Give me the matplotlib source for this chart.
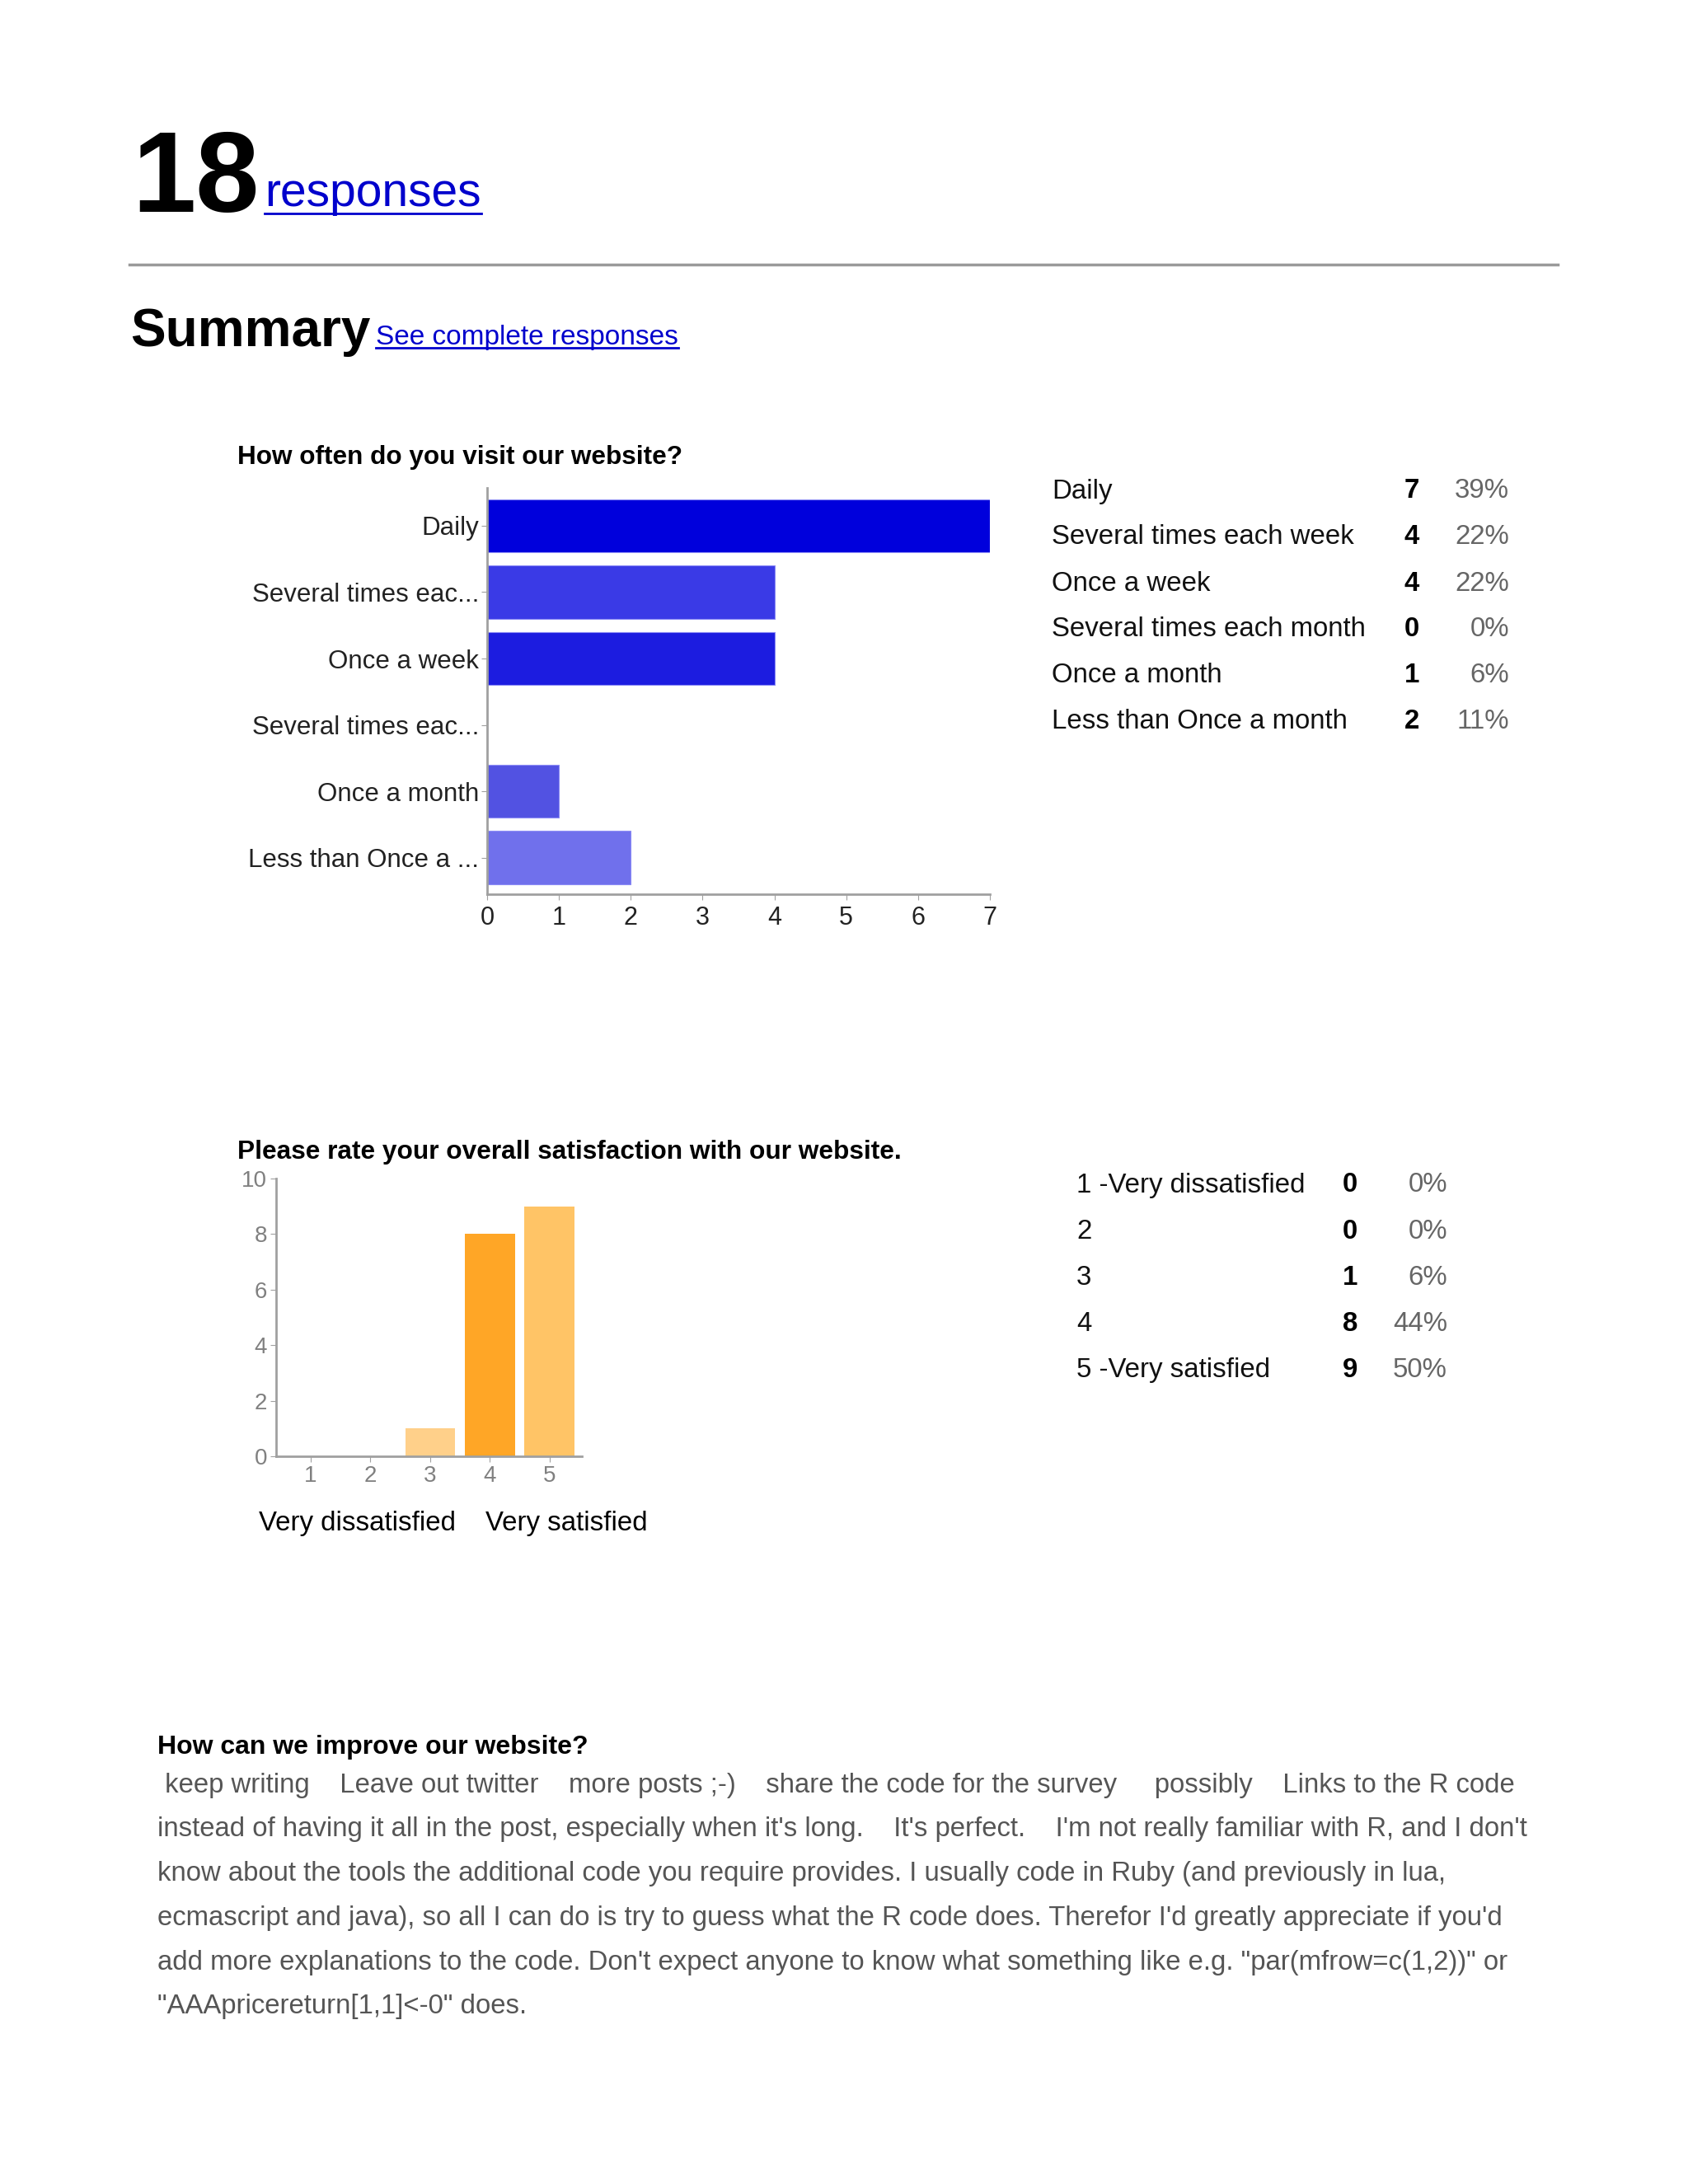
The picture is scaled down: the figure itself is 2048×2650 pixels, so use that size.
import matplotlib
matplotlib.use("Agg")
import matplotlib.pyplot as plt
from matplotlib.lines import Line2D

plt.rcParams['font.family'] = ['Liberation Sans', 'DejaVu Sans']

# Question 1 data
visit_labels = ["Daily", "Several times each week", "Once a week",
                "Several times each month", "Once a month", "Less than Once a month"]
visit_short = ["Daily", "Several times eac...", "Once a week",
               "Several times eac...", "Once a month", "Less than Once a ..."]
visit_counts = [7, 4, 4, 0, 1, 2]
visit_pcts = [39, 22, 22, 0, 6, 11]
visit_colors = ["#0000dc", "#3a3ae6", "#1c1ce0", "#3a3ae6", "#5252e2", "#7070ec"]

# Question 2 data
rate_labels = ["1 -Very dissatisfied", "2", "3", "4", "5 -Very satisfied"]
rate_values = [1, 2, 3, 4, 5]
rate_counts = [0, 0, 1, 8, 9]
rate_pcts = [0, 0, 6, 44, 50]
rate_colors = ["#ffd08a", "#ffd08a", "#ffd08a", "#ffa626", "#ffc466"]

# Question 3 free text (as wrapped on the page)
comment_lines = [
    " keep writing    Leave out twitter    more posts ;-)    share the code for the survey     possibly    Links to the R code",
    "instead of having it all in the post, especially when it's long.    It's perfect.    I'm not really familiar with R, and I don't",
    "know about the tools the additional code you require provides. I usually code in Ruby (and previously in lua,",
    "ecmascript and java), so all I can do is try to guess what the R code does. Therefor I'd greatly appreciate if you'd",
    "add more explanations to the code. Don't expect anyone to know what something like e.g. \"par(mfrow=c(1,2))\" or",
    "\"AAApricereturn[1,1]<-0\" does.",
]

W, H = 2048, 2650
fig = plt.figure(figsize=(W / 100, H / 100), dpi=100)
fig.patch.set_facecolor("white")


def fx(x):
    return x / W


def fy(y):
    return 1 - y / H


def txt(x, y, s, **kw):
    return fig.text(fx(x), fy(y), s, **kw)


LINK = "#0000cc"
TBL = 23.8

# header
txt(160, 257, "18", fontsize=100, fontweight="bold", va="baseline")
tresp = txt(321, 250, "responses", fontsize=41, color=LINK, va="baseline")
fig.add_artist(Line2D([fx(157), fx(1890)], [fy(321), fy(321)], color="#9a9a9a", lw=2.5))
txt(158, 420, "Summary", fontsize=46, fontweight="bold", va="baseline")
tsee = txt(456, 418, "See complete responses", fontsize=24, color=LINK, va="baseline")

# chart 1 - horizontal bars
txt(288, 555, "How often do you visit our website?", fontsize=22.7, fontweight="bold", va="center")
ax1 = fig.add_axes([fx(591), fy(1085), (1201 - 591) / W, (1085 - 592) / H])
ax1.barh(range(len(visit_counts)), visit_counts, height=0.8, color=visit_colors,
         edgecolor="#8c8cf5", linewidth=0.8)
ax1.set_xlim(0, 7)
ax1.set_ylim(5.55, -0.57)
ax1.set_yticks(range(len(visit_short)), visit_short)
ax1.set_xticks(range(8))
for s in ["top", "right"]:
    ax1.spines[s].set_visible(False)
for s in ["left", "bottom"]:
    ax1.spines[s].set_color("#a0a0a0")
    ax1.spines[s].set_linewidth(2)
ax1.tick_params(axis="y", length=5, color="#a0a0a0", labelcolor="#222222", labelsize=22.5, pad=2)
ax1.tick_params(axis="x", length=5, color="#a0a0a0", labelcolor="#222222", labelsize=22, pad=5)

# table 1
for i, (lab, c, p) in enumerate(zip(visit_labels, visit_counts, visit_pcts)):
    y = 596 + i * 56
    txt(1276, y, lab, fontsize=TBL, va="center", color="#111111")
    txt(1713, y, str(c), fontsize=TBL, fontweight="bold", va="center", ha="center")
    txt(1831, y, f"{p}%", fontsize=TBL, va="center", ha="right", color="#666666")

# chart 2 - vertical bars
txt(288, 1398, "Please rate your overall satisfaction with our website.", fontsize=22.8,
    fontweight="bold", va="center")
ax2 = fig.add_axes([fx(335), fy(1767), (706 - 335) / W, (1767 - 1430) / H])
ax2.bar(rate_values, rate_counts, width=0.84, color=rate_colors)
ax2.set_xlim(0.42, 5.54)
ax2.set_ylim(0, 10)
ax2.set_yticks(range(0, 11, 2))
ax2.set_xticks(rate_values)
for s in ["top", "right"]:
    ax2.spines[s].set_visible(False)
for s in ["left", "bottom"]:
    ax2.spines[s].set_color("#a0a0a0")
    ax2.spines[s].set_linewidth(2)
ax2.tick_params(length=5, color="#a0a0a0", labelcolor="#808080", labelsize=20, pad=3)
txt(314, 1848, "Very dissatisfied", fontsize=TBL, va="center")
txt(589, 1848, "Very satisfied", fontsize=TBL, va="center")

# table 2
for i, (lab, c, p) in enumerate(zip(rate_labels, rate_counts, rate_pcts)):
    y = 1438 + i * 56.2
    txt(1306, y, lab, fontsize=TBL, va="center", color="#111111")
    txt(1638, y, str(c), fontsize=TBL, fontweight="bold", va="center", ha="center")
    txt(1756, y, f"{p}%", fontsize=TBL, va="center", ha="right", color="#666666")

# question 3
txt(191, 2120, "How can we improve our website?", fontsize=23, fontweight="bold", va="center")
for i, line in enumerate(comment_lines):
    txt(191, 2166 + i * 53.8, line, fontsize=23.7, va="center", color="#555555")

# underline links
fig.canvas.draw()
r = fig.canvas.get_renderer()
for t in [tresp, tsee]:
    bb = t.get_window_extent(r)
    yline = (bb.y0 + 3) / H
    fig.add_artist(Line2D([bb.x0 / W, bb.x1 / W], [yline, yline], color=LINK, lw=2))

fig.savefig("out.png", dpi=100)
